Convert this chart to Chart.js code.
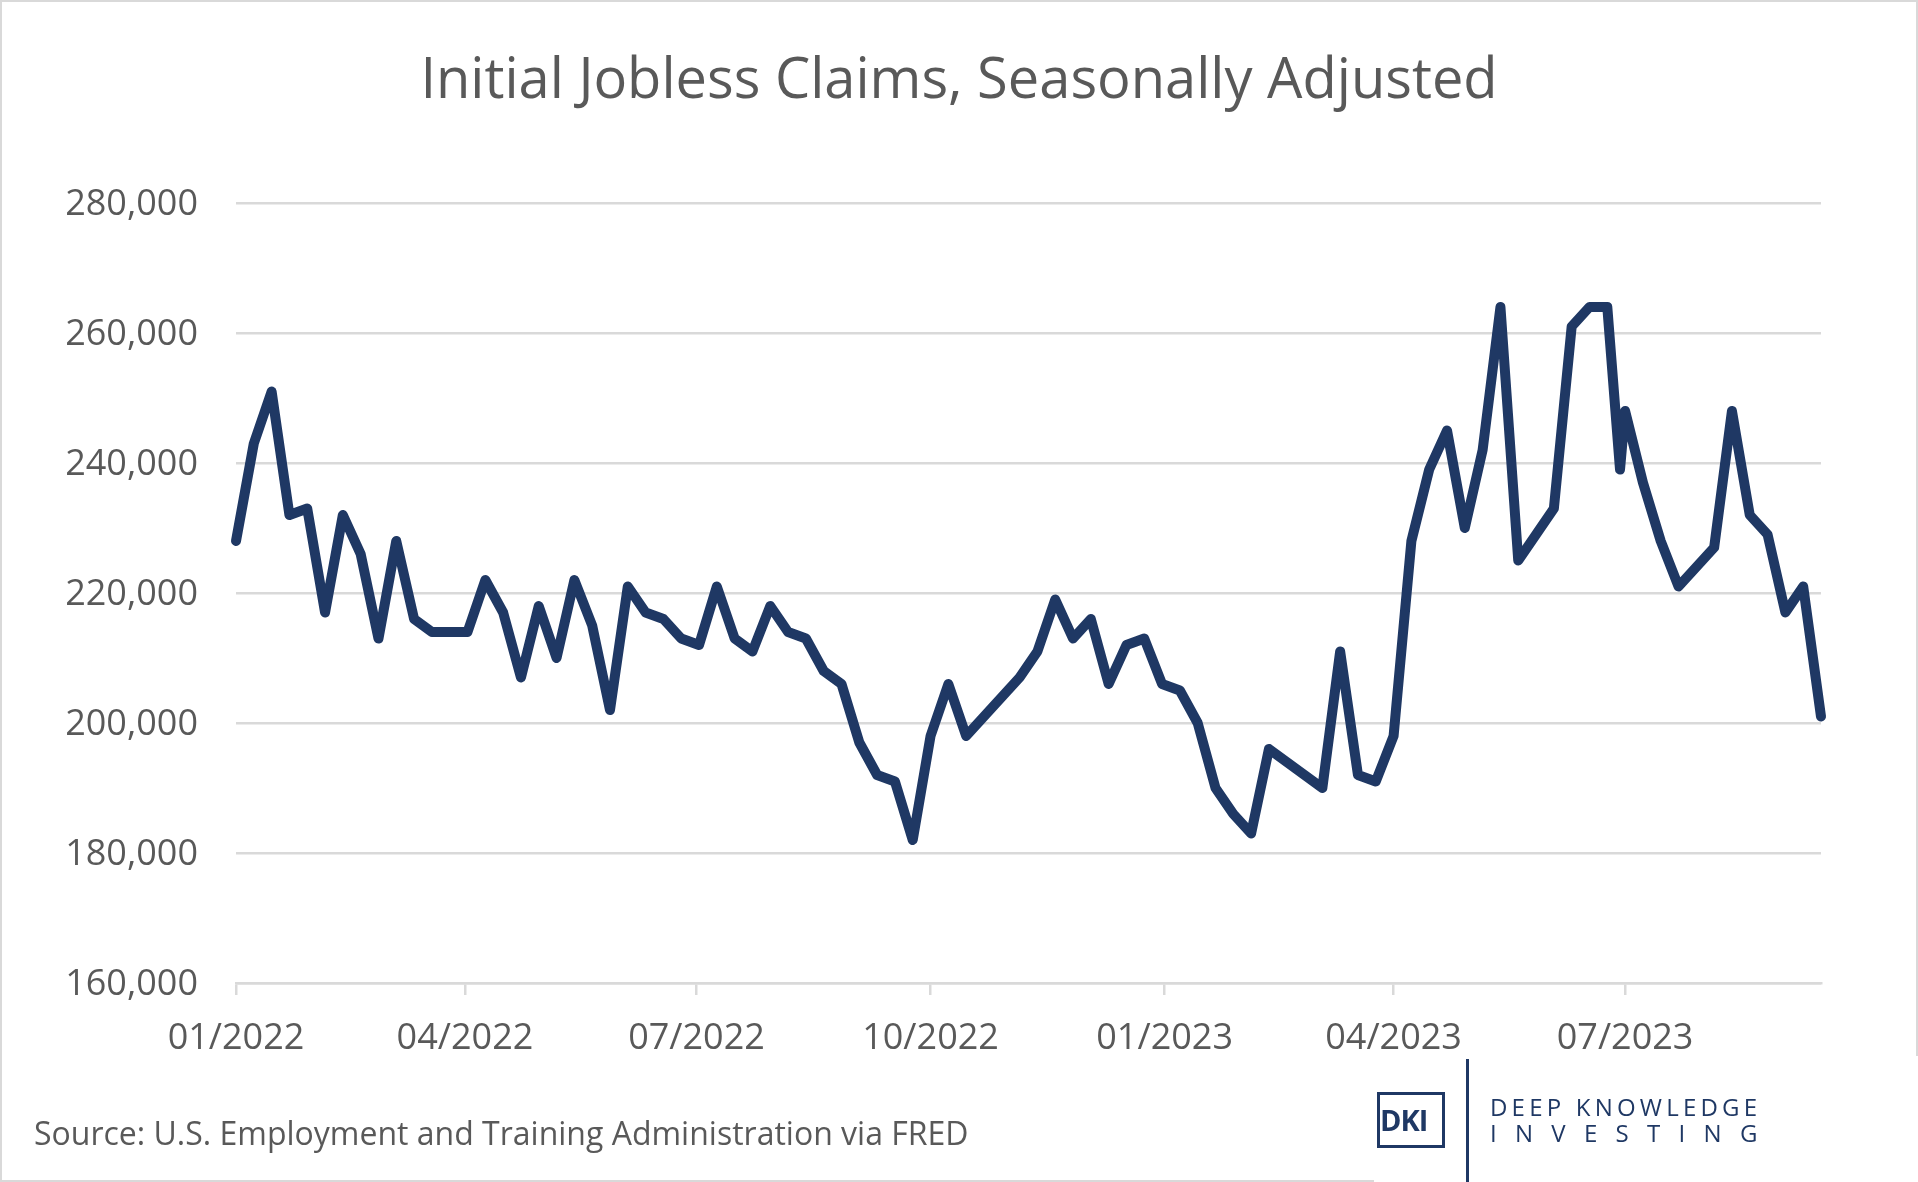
<!DOCTYPE html>
<html>
<head>
<meta charset="utf-8">
<title>Initial Jobless Claims</title>
<script src="https://cdn.jsdelivr.net/npm/chart.js@4.4.1/dist/chart.umd.min.js"></script>
<style>
  html, body { margin: 0; padding: 0; background: #fff; }
  .wrap { position: relative; width: 1918px; height: 1182px; overflow: hidden; font-family: "Open Sans", sans-serif; }
  .frame { position: absolute; left: 0; top: 0; width: 1918px; height: 1182px; box-sizing: border-box; border: 2px solid #d9d9d9; pointer-events: none; }
  canvas { position: absolute; left: 0; top: 0; }
  .title { position: absolute; left: 0; top: 43px; width: 1918px; text-align: center; font-size: 56px; line-height: 67px; color: #595959; white-space: nowrap; }
  .source { position: absolute; left: 34px; top: 1111px; font-size: 32px; line-height: 44px; color: #595959; white-space: nowrap; }
  .logo { position: absolute; left: 1374px; top: 1056px; width: 544px; height: 126px; background: #fff; color: #1f3864; }
  .logo .box { position: absolute; left: 3px; top: 36px; width: 62px; height: 50px; border: 3px solid #1f3864; font-weight: 700; font-size: 29px; line-height: 50px; letter-spacing: -1px; }
  .logo .bar { position: absolute; left: 92px; top: 3px; width: 3px; height: 126px; background: #1f3864; }
  .logo .l1 { position: absolute; left: 116px; top: 36px; font-size: 24px; line-height: 30px; letter-spacing: 4.2px; white-space: nowrap; }
  .logo .l2 { position: absolute; left: 116px; top: 62px; font-size: 24px; line-height: 30px; letter-spacing: 18.3px; white-space: nowrap; }
</style>
</head>
<body>
<div class="wrap">
  <canvas id="claimsChart" width="1918" height="1182"></canvas>
  <div class="frame"></div>
  <div class="title">Initial Jobless Claims, Seasonally Adjusted</div>
  <div class="source">Source: U.S. Employment and Training Administration via FRED</div>
  <div class="logo">
    <div class="box">DKI</div>
    <div class="bar"></div>
    <div class="l1">DEEP KNOWLEDGE</div>
    <div class="l2">INVESTING</div>
  </div>
</div>
<script>
// ===== Data (weekly initial claims, thousands) =====
const weekDates = [
  '2022-01-01','2022-01-08','2022-01-15','2022-01-22','2022-01-29','2022-02-05','2022-02-12','2022-02-19','2022-02-26',
  '2022-03-05','2022-03-12','2022-03-19','2022-03-26','2022-04-02','2022-04-09','2022-04-16','2022-04-23','2022-04-30',
  '2022-05-07','2022-05-14','2022-05-21','2022-05-28','2022-06-04','2022-06-11','2022-06-18','2022-06-25','2022-07-02',
  '2022-07-09','2022-07-16','2022-07-23','2022-07-30','2022-08-06','2022-08-13','2022-08-20','2022-08-27','2022-09-03',
  '2022-09-10','2022-09-17','2022-09-24','2022-10-01','2022-10-08','2022-10-15','2022-10-22','2022-10-29','2022-11-05',
  '2022-11-12','2022-11-19','2022-11-26','2022-12-03','2022-12-10','2022-12-17','2022-12-24','2022-12-31','2023-01-07',
  '2023-01-14','2023-01-21','2023-01-28','2023-02-04','2023-02-11','2023-02-18','2023-02-25','2023-03-04','2023-03-11',
  '2023-03-18','2023-03-25','2023-04-01','2023-04-08','2023-04-15','2023-04-22','2023-04-29','2023-05-06','2023-05-13',
  '2023-05-20','2023-05-27','2023-06-03','2023-06-10','2023-06-17','2023-06-24','2023-06-29','2023-07-01','2023-07-08',
  '2023-07-15','2023-07-22','2023-07-29','2023-08-05','2023-08-12','2023-08-19','2023-08-26','2023-09-02','2023-09-09',
  '2023-09-16'
];

const claims = [
  228, 243, 251, 232, 233, 217, 232, 226, 213,
  228, 216, 214, 214, 214, 222, 217, 207, 218,
  210, 222, 215, 202, 221, 217, 216, 213, 212,
  221, 213, 211, 218, 214, 213, 208, 206, 197,
  192, 191, 182, 198, 206, 198, 201, 204, 207,
  211, 219, 213, 216, 206, 212, 213, 206, 205,
  200, 190, 186, 183, 196, 194, 192, 190, 211,
  192, 191, 198, 228, 239, 245, 230, 242, 264,
  225, 229, 233, 261, 264, 264, 239, 248, 237,
  228, 221, 224, 227, 248, 232, 229, 217, 221,
  201
];

const xTickDates = ['2022-01-01','2022-04-01','2022-07-01','2022-10-01','2023-01-01','2023-04-01','2023-07-01'];
const xTickLabels = ['01/2022','04/2022','07/2022','10/2022','01/2023','04/2023','07/2023'];
const yTicks = [160000, 180000, 200000, 220000, 240000, 260000, 280000];

// days since the first week, so the x axis behaves like a date axis
const startDay = Date.UTC(2022, 0, 1);
const toDay = s => {
  const p = s.split('-').map(Number);
  return (Date.UTC(p[0], p[1] - 1, p[2]) - startDay) / 86400000;
};

const points = weekDates.map((d, i) => ({ x: toDay(d), y: claims[i] * 1000 }));
const tickDays = xTickDates.map(toDay);

const GRID = '#d9d9d9';
const TEXT = '#595959';

// ===== Chart =====
const claimsChart = new Chart(document.getElementById('claimsChart'), {
  type: 'line',
  data: {
    datasets: [{
      label: 'Initial Claims',
      data: points,
      borderColor: '#1f3864',
      borderWidth: 10,
      borderJoinStyle: 'round',
      borderCapStyle: 'round',
      pointRadius: 0,
      tension: 0,
      fill: false,
      clip: false
    }]
  },
  options: {
    responsive: false,
    animation: false,
    devicePixelRatio: 1,
    layout: { padding: { left: 0, right: 97, top: 203, bottom: 0 } },
    plugins: {
      legend: { display: false },
      tooltip: { enabled: false },
      title: { display: false }
    },
    scales: {
      x: {
        type: 'linear',
        min: 0,
        max: toDay(weekDates[weekDates.length - 1]),
        afterBuildTicks: scale => { scale.ticks = tickDays.map(v => ({ value: v })); },
        afterFit: scale => { scale.height = 199; },
        ticks: {
          autoSkip: false,
          maxRotation: 0,
          padding: 22,
          color: TEXT,
          font: { family: '"Open Sans", sans-serif', size: 36 },
          callback: function(value) {
            const i = tickDays.indexOf(value);
            return i >= 0 ? xTickLabels[i] : '';
          }
        },
        grid: { display: true, drawOnChartArea: false, drawTicks: true, tickLength: 12, color: GRID, lineWidth: 2.5 },
        border: { display: true, color: GRID, width: 2.5 }
      },
      y: {
        min: 160000,
        max: 280000,
        afterBuildTicks: scale => { scale.ticks = yTicks.map(v => ({ value: v })); },
        afterFit: scale => { scale.width = 236; },
        ticks: {
          padding: 38,
          labelOffset: 2,
          color: TEXT,
          font: { family: '"Open Sans", sans-serif', size: 36 },
          callback: value => value.toLocaleString('en-US')
        },
        grid: { color: GRID, lineWidth: 2.5, drawTicks: false },
        border: { display: false }
      }
    }
  }
});
</script>
</body>
</html>
